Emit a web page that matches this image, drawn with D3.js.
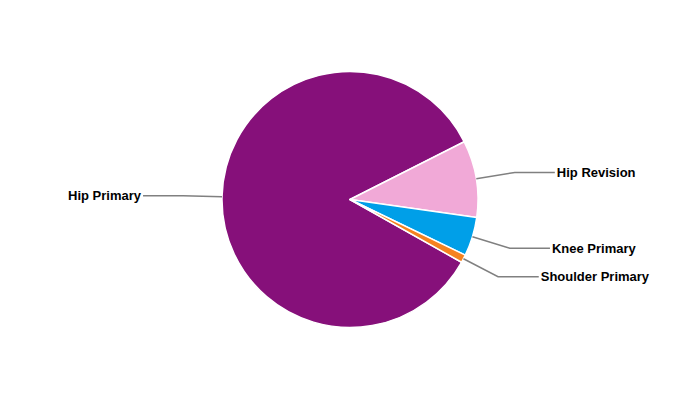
<!DOCTYPE html>
<html>
<head>
<meta charset="utf-8">
<script src="https://cdn.jsdelivr.net/npm/d3@7/dist/d3.min.js"></script>
<style>
  html, body { margin: 0; padding: 0; background: #fff; }
  svg { display: block; }
</style>
</head>
<body>
<svg id="chart" width="700" height="400"></svg>
<script>
const categories = ["Hip Primary", "Hip Revision", "Knee Primary", "Shoulder Primary"];
const values = [84.4, 9.7, 4.9, 1.0];
const colors = ["#86107a", "#f1a9d7", "#009fe8", "#f5821f"];

const W = 700, H = 400;
const cx = 350, cy = 199.5, r = 128;
const svg = d3.select("#chart");
const g = svg.append("g").attr("transform", `translate(${cx},${cy})`);

const deg = Math.PI / 180;
const start = 119.36 * deg;
const pie = d3.pie().sort(null).value(d => d.v)
  .startAngle(start).endAngle(start + 2 * Math.PI);
const data = categories.map((c, i) => ({ c, v: values[i], col: colors[i] }));
const arcs = pie(data);

const arc = d3.arc().innerRadius(0).outerRadius(r);

g.selectAll("path.slice").data(arcs).join("path")
  .attr("class", "slice")
  .attr("d", arc)
  .attr("fill", d => d.data.col)
  .attr("stroke", "#fff")
  .attr("stroke-width", 1.5)
  .attr("stroke-linejoin", "round");

const breakR = r + 39;
const labelR = 207;
arcs.forEach(d => {
  const a = (d.startAngle + d.endAngle) / 2;
  const sx = Math.sin(a), sy = -Math.cos(a);
  const p0 = [sx * r, sy * r];
  const p1 = [sx * breakR, sy * breakR];
  const side = sx >= 0 ? 1 : -1;
  const ly = p1[1];
  const k = ly * 1.1;
  const lx = side * Math.sqrt(Math.max(0, labelR * labelR - k * k));
  g.append("path")
    .attr("d", d3.line()([p0, p1, [lx, ly]]))
    .attr("fill", "none")
    .attr("stroke", "#808080")
    .attr("stroke-width", 1.5);
  g.append("text")
    .attr("x", lx + side * 2)
    .attr("y", ly)
    .attr("dy", "0.35em")
    .attr("text-anchor", side > 0 ? "start" : "end")
    .attr("font-family", "Liberation Sans, Arial, sans-serif")
    .attr("font-weight", "bold")
    .attr("font-size", 13)
    .attr("fill", "#000")
    .text(d.data.c);
});
</script>
</body>
</html>
